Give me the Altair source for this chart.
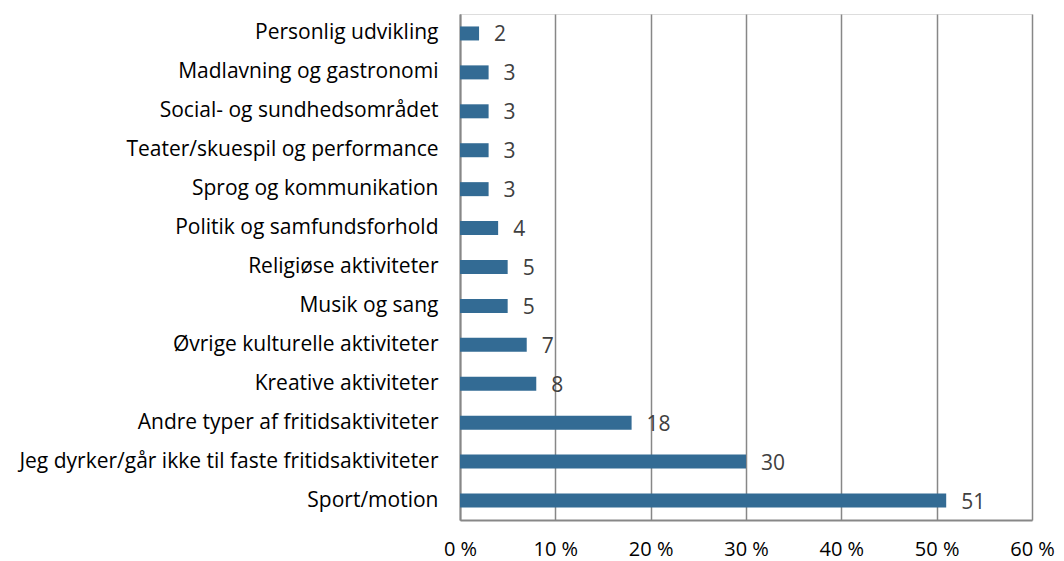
import altair as alt
import pandas as pd

categories = [
    "Personlig udvikling",
    "Madlavning og gastronomi",
    "Social- og sundhedsområdet",
    "Teater/skuespil og performance",
    "Sprog og kommunikation",
    "Politik og samfundsforhold",
    "Religiøse aktiviteter",
    "Musik og sang",
    "Øvrige kulturelle aktiviteter",
    "Kreative aktiviteter",
    "Andre typer af fritidsaktiviteter",
    "Jeg dyrker/går ikke til faste fritidsaktiviteter",
    "Sport/motion",
]
values = [2, 3, 3, 3, 3, 4, 5, 5, 7, 8, 18, 30, 51]
x_ticks = [0, 10, 20, 30, 40, 50, 60]

df = pd.DataFrame({"kategori": categories, "procent": values})

FONT = "Open Sans"
BAR = "#336B94"
GRID = "#878787"
FS = 21

y_enc = alt.Y(
    "kategori:N",
    sort=categories,
    title=None,
    scale=alt.Scale(paddingInner=0.64, paddingOuter=0.32),
    axis=alt.Axis(
        labelFont=FONT, labelFontSize=FS, labelColor="#000000",
        labelPadding=22, ticks=False, domainColor=GRID, domainWidth=2,
        labelLimit=600,
    ),
)
x_enc = alt.X(
    "procent:Q",
    title=None,
    scale=alt.Scale(domain=[0, 60], nice=False),
    axis=alt.Axis(
        values=x_ticks, labelExpr="datum.value + ' %'",
        labelFont=FONT, labelFontSize=20, labelColor="#000000",
        labelPadding=19, labelFlush=False, labelOverlap=False,
        ticks=False, grid=True, gridColor=GRID,
        gridWidth=1.5, domainColor=GRID, domainWidth=2,
    ),
)

bars = alt.Chart(df).mark_bar(color=BAR).encode(x=x_enc, y=y_enc)
labels = alt.Chart(df).mark_text(
    align="left", baseline="middle", dx=15, dy=2,
    font=FONT, fontSize=FS, color="#404040",
).encode(x="procent:Q", y=alt.Y("kategori:N", sort=categories), text="procent:Q")

chart = (
    alt.layer(bars, labels)
    .properties(
        width=572, height=506,
        padding={"left": 452, "top": 6, "right": 24, "bottom": 45},
        autosize=alt.AutoSizeParams(type="none"),
    )
    .configure_view(strokeWidth=0)
    .configure(background="white")
)

chart.save("out.html", embed_options={"renderer": "svg", "actions": False})
